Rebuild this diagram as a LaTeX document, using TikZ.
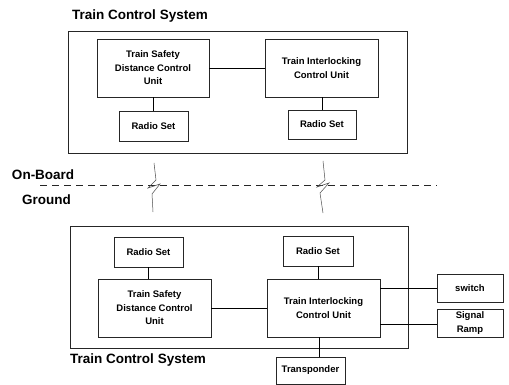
\documentclass[tikz,border=0pt]{standalone}
\usepackage{fontspec}
\setmainfont{Liberation Sans}
\begin{document}
\begin{tikzpicture}[x=1pt,y=-1pt,
  every node/.style={inner sep=0pt,outer sep=0pt},
  frame/.style={draw=black!85,line width=0.6pt},
  unitbox/.style={draw=black!85,line width=0.6pt,font=\bfseries\fontsize{9.5}{13.5}\selectfont,align=center},
  titletext/.style={font=\bfseries\fontsize{13.5}{15}\selectfont,anchor=west},
  wire/.style={draw=black,line width=0.6pt},
  bolt/.style={draw=black!70,line width=0.5pt}]
\useasboundingbox (0,0) rectangle (509,385);
% top system
\node[titletext] (ttop) at (72,16) {Train Control System};
\node[frame,minimum width=339,minimum height=122,anchor=north west] (topframe) at (68,31) {};
\node[unitbox,minimum width=112,minimum height=58,anchor=north west] (tsd1) at (97,39) {Train Safety\\Distance Control\\Unit};
\node[unitbox,minimum width=113,minimum height=58,anchor=north west] (tic1) at (265,39) {Train Interlocking\\Control Unit};
\node[unitbox,minimum width=69,minimum height=30,anchor=north west] (rs1) at (119,111) {Radio Set};
\node[unitbox,minimum width=68,minimum height=29,anchor=north west] (rs2) at (288,110) {Radio Set};
\draw[wire] (tsd1.east) -- (tic1.west);
\draw[wire] (rs1.north) -- (rs1.north |- tsd1.south);
\draw[wire] (rs2.north) -- (rs2.north |- tic1.south);
% boundary
\node[titletext] (onboard) at (12,175) {On-Board};
\node[titletext] (ground) at (22,200) {Ground};
\coordinate (dl) at (40,185);
\coordinate (dr) at (437,185);
\draw[black!85,line width=0.8pt,dash pattern=on 7pt off 5pt] (dl) -- (dr);
% bolts
\coordinate (b1t) at (154,163);
\coordinate (b1b) at (153,212);
\draw[bolt] (b1t) -- (156,180) -- (148,188) -- (160,184) -- (152,194) -- (b1b);
\coordinate (b2t) at (323,161);
\coordinate (b2b) at (323,213);
\draw[bolt] (b2t) -- (325,180) -- (317,187) -- (329,183) -- (320,193) -- (b2b);
% bottom system
\node[frame,minimum width=338,minimum height=122,anchor=north west] (botframe) at (70,226) {};
\node[unitbox,minimum width=69,minimum height=30,anchor=north west] (rs3) at (114,237) {Radio Set};
\node[unitbox,minimum width=70,minimum height=30,anchor=north west] (rs4) at (283,236) {Radio Set};
\node[unitbox,minimum width=113,minimum height=58,anchor=north west] (tsd2) at (98,279) {Train Safety\\Distance Control\\Unit};
\node[unitbox,minimum width=113,minimum height=58,anchor=north west] (tic2) at (267,279) {Train Interlocking\\Control Unit};
\node[unitbox,minimum width=66,minimum height=28,anchor=north west] (sw) at (437,274) {switch};
\node[unitbox,minimum width=66,minimum height=28,anchor=north west] (sr) at (437,309) {Signal\\Ramp};
\node[unitbox,minimum width=69,minimum height=27,anchor=north west] (tp) at (276,357) {Transponder};
\node[titletext] (tbot) at (70,360) {Train Control System};
\draw[wire] (rs3.south) -- (rs3.south |- tsd2.north);
\draw[wire] (rs4.south) -- (rs4.south |- tic2.north);
\draw[wire] (tsd2.east) -- (tic2.west);
\draw[wire] (tic2.east |- sw.west) -- (sw.west);
\draw[wire] (tic2.east |- 0,324) -- (sr.west |- 0,324);
\draw[wire] (tp.north -| 319,0) -- (tic2.south -| 319,0);
\end{tikzpicture}
\end{document}
